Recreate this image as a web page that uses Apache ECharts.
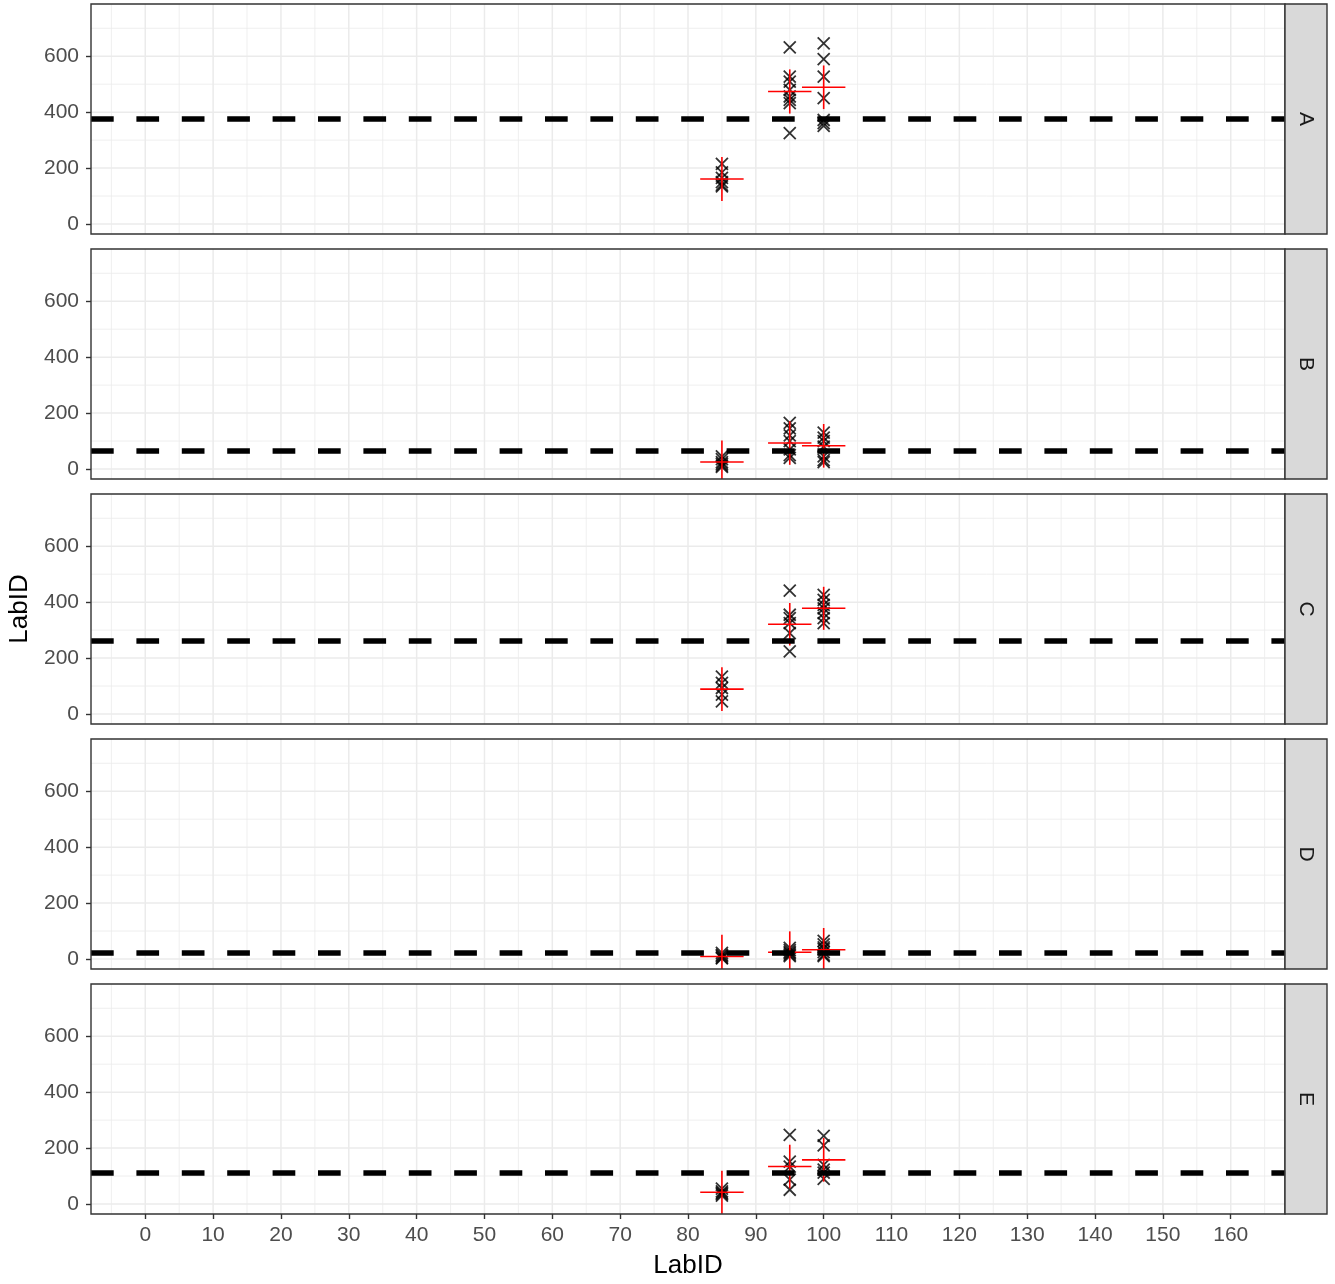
<!DOCTYPE html>
<html>
<head>
<meta charset="utf-8">
<script src="https://cdn.jsdelivr.net/npm/echarts@6/dist/echarts.min.js"></script>
<style>
  html, body { margin: 0; padding: 0; background: #ffffff; }
  #chart { width: 1335px; height: 1284px; }
</style>
</head>
<body>
<div id="chart"></div>
<script>
// Facet labels and the lab positions on the x axis
const panels = ['A', 'B', 'C', 'D', 'E'];
const labs = [85, 95, 100];

// Replicate results for each facet, one list per lab (85, 95, 100)
const valuesA = [[215, 185, 165, 150, 140, 135], [632, 527, 509, 480, 456, 444, 432, 325], [646, 590, 527, 450, 372, 361, 351]];
const valuesB = [[45, 35, 25, 18, 12, 8], [165, 145, 120, 100, 70, 50, 40], [130, 112, 100, 80, 45, 32, 25]];
const valuesC = [[134, 111, 93, 69, 45], [441, 355, 343, 325, 289, 224], [426, 408, 390, 378, 361, 343, 325]];
const valuesD = [[22, 15, 10, 5, 2], [40, 32, 25, 20, 15, 10], [65, 52, 42, 35, 25, 15, 10]];
const valuesE = [[55, 45, 40, 35, 30], [247, 152, 134, 87, 51], [244, 210, 140, 123, 112, 90]];

// Lab means and their interval half-widths
const meansA = [161, 474, 489];
const meansB = [25, 93, 83];
const meansC = [89, 321, 378];
const meansD = [9, 24, 33];
const meansE = [42, 134, 158];
const halfA = [79, 79, 78];
const halfB = [77, 78, 78];
const halfC = [78, 76, 77];
const halfD = [78, 75, 78];
const halfE = [77, 78, 78];

// Reference level drawn as a dashed line in each facet
const refLines = [375, 66, 262, 22, 111];

// Axis breaks
const xTicks = [0, 10, 20, 30, 40, 50, 60, 70, 80, 90, 100, 110, 120, 130, 140, 150, 160];
const xMinor = [-5, 5, 15, 25, 35, 45, 55, 65, 75, 85, 95, 105, 115, 125, 135, 145, 155, 165];
const yTicks = [0, 200, 400, 600];
const yMinor = [100, 300, 500, 700];

const allValues = [valuesA, valuesB, valuesC, valuesD, valuesE];
const allMeans = [meansA, meansB, meansC, meansD, meansE];
const allHalf = [halfA, halfB, halfC, halfD, halfE];

const FONT = '"Liberation Sans", Arial, Helvetica, sans-serif';
const LEFT = 91, RIGHT_EDGE = 1285, STRIP_W = 42;
const PANEL_H = 230, PANEL_STEP = 245, TOP0 = 4;
const X_MIN = -8, X_MAX = 168;
const Y_MIN = -35.7, Y_MAX = 786.8;
const MEAN_HALF_X = 3.2;

// grid line records: [orientation (0 = vertical, 1 = horizontal), value, width]
const gridRows = [];
xMinor.forEach(v => gridRows.push([0, v, 0.8]));
yMinor.forEach(v => gridRows.push([1, v, 0.8]));
xTicks.forEach(v => gridRows.push([0, v, 1.5]));
yTicks.forEach(v => gridRows.push([1, v, 1.5]));

const grids = [], xAxes = [], yAxes = [], series = [], graphics = [];

panels.forEach((name, i) => {
  const top = TOP0 + i * PANEL_STEP;
  const isBottom = i === panels.length - 1;
  grids.push({ left: LEFT, top: top, width: RIGHT_EDGE - LEFT, height: PANEL_H, containLabel: false });

  xAxes.push({
    gridIndex: i, type: 'value', min: X_MIN, max: X_MAX, position: 'bottom',
    axisLine: { show: false, onZero: false },
    axisTick: { show: isBottom, customValues: xTicks, length: 5, lineStyle: { color: '#333333', width: 1.4 } },
    axisLabel: { show: isBottom, customValues: xTicks, fontSize: 21, color: '#4D4D4D', margin: 11, fontFamily: FONT },
    splitLine: { show: false }
  });
  yAxes.push({
    gridIndex: i, type: 'value', min: Y_MIN, max: Y_MAX, position: 'left',
    axisLine: { show: false, onZero: false },
    axisTick: { show: true, customValues: yTicks, length: 5, lineStyle: { color: '#333333', width: 1.4 } },
    axisLabel: { customValues: yTicks, fontSize: 21, color: '#4D4D4D', margin: 12, fontFamily: FONT, padding: [2, 0, 0, 0] },
    splitLine: { show: false }
  });

  // background grid lines
  series.push({
    type: 'custom', xAxisIndex: i, yAxisIndex: i, z: 1, silent: true,
    encode: { x: -1, y: -1 },
    renderItem: function (params, api) {
      const cs = params.coordSys;
      const o = api.value(0), v = api.value(1), w = api.value(2);
      let shape;
      if (o === 0) {
        const px = api.coord([v, 0])[0];
        shape = { x1: px, y1: cs.y, x2: px, y2: cs.y + cs.height };
      } else {
        const py = api.coord([0, v])[1];
        shape = { x1: cs.x, y1: py, x2: cs.x + cs.width, y2: py };
      }
      return { type: 'line', shape: shape, style: { stroke: '#EBEBEB', lineWidth: w } };
    },
    data: gridRows, animation: false
  });

  // dashed reference level
  series.push({
    type: 'line', xAxisIndex: i, yAxisIndex: i, data: [], z: 2, silent: true,
    markLine: {
      silent: true, symbol: ['none', 'none'], animation: false,
      label: { show: false },
      lineStyle: { color: '#000000', width: 5.5, type: [22.7, 22.7] },
      emphasis: { disabled: true },
      data: [{ yAxis: refLines[i] }]
    }
  });

  // replicate results
  const pts = [];
  allValues[i].forEach((vals, k) => vals.forEach(v => pts.push([labs[k], v])));
  series.push({
    type: 'scatter', xAxisIndex: i, yAxisIndex: i, z: 3, silent: true,
    symbol: 'path://M0,0L10,10M10,0L0,10', symbolSize: 12,
    itemStyle: { color: 'rgba(0,0,0,0)', borderColor: '#000000', borderWidth: 1.8 },
    data: pts, animation: false
  });

  // lab mean with interval
  const ms = labs.map((x, k) => [x, allMeans[i][k], allHalf[i][k]]);
  series.push({
    type: 'custom', xAxisIndex: i, yAxisIndex: i, z: 4, silent: true, clip: true,
    encode: { x: 0, y: 1 },
    renderItem: function (params, api) {
      const x = api.value(0), m = api.value(1), h = api.value(2);
      const a = api.coord([x - MEAN_HALF_X, m]), b = api.coord([x + MEAN_HALF_X, m]);
      const c = api.coord([x, m - h]), d = api.coord([x, m + h]);
      const st = { stroke: '#FF0000', lineWidth: 1.6 };
      return {
        type: 'group',
        children: [
          { type: 'line', shape: { x1: a[0], y1: a[1], x2: b[0], y2: b[1] }, style: st },
          { type: 'line', shape: { x1: c[0], y1: c[1], x2: d[0], y2: d[1] }, style: st }
        ]
      };
    },
    data: ms, animation: false
  });

  // panel border and facet strip
  graphics.push({
    type: 'rect', z: 100, silent: true,
    shape: { x: LEFT, y: top, width: RIGHT_EDGE - LEFT, height: PANEL_H },
    style: { fill: 'none', stroke: '#333333', lineWidth: 1.4 }
  });
  graphics.push({
    type: 'rect', z: 100, silent: true,
    shape: { x: RIGHT_EDGE, y: top, width: STRIP_W, height: PANEL_H },
    style: { fill: '#D9D9D9', stroke: '#333333', lineWidth: 1.4 }
  });
  graphics.push({
    type: 'text', z: 101, silent: true,
    x: RIGHT_EDGE + STRIP_W / 2, y: top + PANEL_H / 2, rotation: -Math.PI / 2,
    style: { text: name, fill: '#1A1A1A', fontSize: 21, fontFamily: FONT, align: 'center', verticalAlign: 'middle' }
  });
});

// axis titles
graphics.push({
  type: 'text', z: 101, silent: true,
  x: (LEFT + RIGHT_EDGE) / 2, y: 1266,
  style: { text: 'LabID', fill: '#000000', fontSize: 26, fontFamily: FONT, align: 'center', verticalAlign: 'middle' }
});
graphics.push({
  type: 'text', z: 101, silent: true,
  x: 20, y: TOP0 + (PANEL_STEP * (panels.length - 1) + PANEL_H) / 2, rotation: Math.PI / 2,
  style: { text: 'LabID', fill: '#000000', fontSize: 26, fontFamily: FONT, align: 'center', verticalAlign: 'middle' }
});

const chart = echarts.init(document.getElementById('chart'), null, { renderer: 'canvas' });
chart.setOption({
  animation: false,
  backgroundColor: '#ffffff',
  grid: grids,
  xAxis: xAxes,
  yAxis: yAxes,
  series: series,
  graphic: graphics
});
</script>
</body>
</html>
